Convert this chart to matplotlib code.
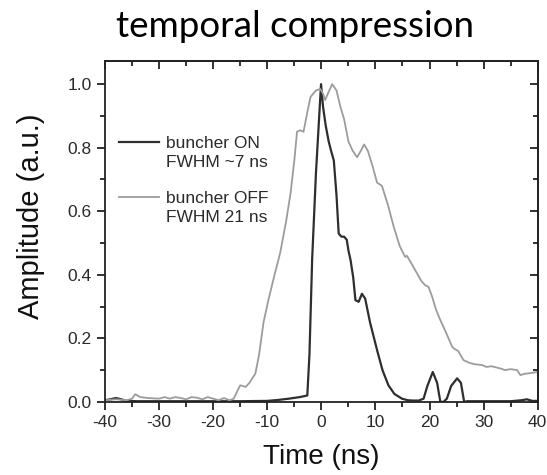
import matplotlib
matplotlib.use("Agg")
import matplotlib.pyplot as plt
from matplotlib.ticker import MultipleLocator
from matplotlib.lines import Line2D

plt.rcParams["axes.unicode_minus"] = False

# buncher OFF (gray)
t_off = [-40, -38, -36, -35, -34.4, -33.5, -32, -30, -29, -28, -27, -26, -25, -24, -23, -22, -21, -20,
         -19, -18, -17, -16.2, -15.5, -15, -14.5, -14, -13.3, -12.2, -11.5, -10.7, -9.8, -8.8, -7.6, -6.5,
         -5.7, -5, -4.5, -3.9, -3.3, -2.5, -2, -1, -0.2, 0.3, 0.7, 1.2, 2.0, 2.8, 3.5, 4.2, 5.0, 5.8, 6.6,
         7.3, 7.9, 8.6, 9.5, 10.3, 11.2, 12.3, 13.4, 14.5, 15.5, 15.8, 16.5, 17.5, 18.5, 19.2, 19.8, 20.5,
         21.2, 22, 23, 24.2, 24.5, 25.3, 26.3, 27.5, 28.5, 29.7, 30.5, 31.5, 33.1, 34, 35, 36.2, 36.8, 37.5,
         38.5, 39.9]
a_off = [0.005, 0.008, 0.005, 0.01, 0.024, 0.015, 0.012, 0.01, 0.015, 0.01, 0.015, 0.012, 0.008, 0.015,
         0.013, 0.008, 0.015, 0.01, 0.005, 0.012, 0.005, 0.01, 0.035, 0.052, 0.05, 0.047, 0.06, 0.089, 0.15,
         0.25, 0.32, 0.39, 0.47, 0.57, 0.656, 0.76, 0.85, 0.855, 0.85, 0.92, 0.96, 0.98, 0.985, 0.97, 0.95,
         0.97, 1.0, 0.98, 0.93, 0.89, 0.82, 0.79, 0.77, 0.79, 0.81, 0.79, 0.74, 0.69, 0.68, 0.62, 0.55, 0.49,
         0.456, 0.46, 0.44, 0.41, 0.38, 0.367, 0.362, 0.33, 0.29, 0.257, 0.22, 0.173, 0.168, 0.16, 0.131,
         0.122, 0.118, 0.116, 0.11, 0.112, 0.105, 0.1, 0.103, 0.1, 0.084, 0.088, 0.09, 0.094]

# buncher ON (dark)
t_on = [-40, -39, -38, -37, -36, -34, -30, -25, -20, -15, -10, -8, -6, -4, -2.6, -2.2, -1.7, -1.0, -0.06,
        0.3, 0.8, 1.35, 1.8, 2.3, 2.8, 3.2, 3.7, 4.2, 4.7, 5.0, 5.4, 5.9, 6.3, 6.9, 7.5, 8.1, 9.0, 10.3,
        11.3, 12.4, 13.5, 14.9, 16, 17, 18, 18.9, 19.6, 20.6, 21.4, 22.0, 22.6, 23.2, 24.0, 25.1, 25.8,
        26.4, 27, 30, 35, 37, 38, 39, 40]
a_on = [0.005, 0.008, 0.012, 0.008, 0.003, 0.002, 0.002, 0.002, 0.002, 0.002, 0.003, 0.006, 0.01, 0.015,
        0.02, 0.15, 0.45, 0.72, 1.0, 0.93, 0.87, 0.82, 0.79, 0.76, 0.65, 0.53, 0.52, 0.52, 0.51, 0.477,
        0.446, 0.39, 0.32, 0.315, 0.34, 0.325, 0.25, 0.163, 0.1, 0.052, 0.025, 0.01, 0.005, 0.004, 0.004,
        0.01, 0.05, 0.094, 0.06, 0.0, 0.0, 0.01, 0.05, 0.074, 0.06, 0.0, 0.002, 0.002, 0.002, 0.005, 0.008,
        0.003, 0.003]

labels_on = ["buncher ON", "FWHM ~7 ns"]
labels_off = ["buncher OFF", "FWHM 21 ns"]
col_on = "#2e2e2e"
col_off = "#9c9c9c"

fig = plt.figure(figsize=(5.47, 4.75), dpi=100)
ax = fig.add_axes([0.192, 0.154, 0.791, 0.717])

ax.plot(t_on, a_on, color=col_on, lw=1.6)
ax.plot(t_off, a_off, color=col_off, lw=1.3)

ax.set_xlim(-40, 40)
ax.set_ylim(0, 1.072)
ax.xaxis.set_major_locator(MultipleLocator(10))
ax.xaxis.set_minor_locator(MultipleLocator(5))
ax.set_yticks([0.0, 0.2, 0.4, 0.6, 0.8, 1.0])
ax.set_yticklabels(["0.0", "0.2", "0.4", "0.6", "0.8", "1.0"])
ax.yaxis.set_minor_locator(MultipleLocator(0.1))

fam = ["Liberation Sans", "DejaVu Sans"]
ax.tick_params(which="both", direction="out", top=False, right=False, width=1.3,
               colors="#222222", labelcolor="#2a2a2a")
ax.tick_params(which="major", length=6, labelsize=12.5)
ax.tick_params(which="minor", length=3.5)
for lab in ax.get_xticklabels() + ax.get_yticklabels():
    lab.set_family(fam)

sec_x = ax.secondary_xaxis("top")
sec_x.xaxis.set_major_locator(MultipleLocator(10))
sec_x.xaxis.set_minor_locator(MultipleLocator(5))
sec_x.tick_params(which="both", direction="in", labeltop=False, width=1.3, colors="#222222")
sec_x.tick_params(which="major", length=6)
sec_x.tick_params(which="minor", length=3.5)
sec_y = ax.secondary_yaxis("right")
sec_y.yaxis.set_major_locator(MultipleLocator(0.2))
sec_y.yaxis.set_minor_locator(MultipleLocator(0.1))
sec_y.tick_params(which="both", direction="in", labelright=False, width=1.3, colors="#222222")
sec_y.tick_params(which="major", length=6)
sec_y.tick_params(which="minor", length=3.5)

for s in list(ax.spines.values()) + list(sec_x.spines.values()) + list(sec_y.spines.values()):
    s.set_linewidth(1.3)
    s.set_color("#222222")

ax.set_xlabel("Time (ns)", family=fam, fontsize=20, color="#111111")
ax.xaxis.set_label_coords(321 / 547, 1 - 457 / 475, transform=fig.transFigure)
ax.xaxis.label.set_va("center")
ax.set_ylabel("Amplitude (a.u.)", family=fam, fontsize=21, color="#111111")
ax.yaxis.set_label_coords(31 / 547, 1 - 216 / 475, transform=fig.transFigure)
ax.yaxis.label.set_va("center")


def make_legend(color, lw, labels, ycenter):
    handles = [Line2D([], [], color=color, lw=lw), Line2D([], [], color="none", lw=lw)]
    leg = ax.legend(handles, labels, loc="center left", bbox_to_anchor=(0.0324, ycenter),
                    frameon=False, prop={"family": fam, "size": 12.5}, handlelength=2.3,
                    handletextpad=0.4, labelspacing=0.2, borderpad=0, borderaxespad=0)
    for t in leg.get_texts():
        t.set_color("#2a2a2a")
    return leg


leg1 = make_legend(col_on, 1.6, labels_on, 0.730)
ax.add_artist(leg1)
leg2 = make_legend(col_off, 1.3, labels_off, 0.5685)

fig.text(0.539, 0.945, "temporal compression", family=["Lato", "DejaVu Sans"], fontsize=26.5,
         ha="center", va="center")

fig.savefig("out.png", dpi=100)
